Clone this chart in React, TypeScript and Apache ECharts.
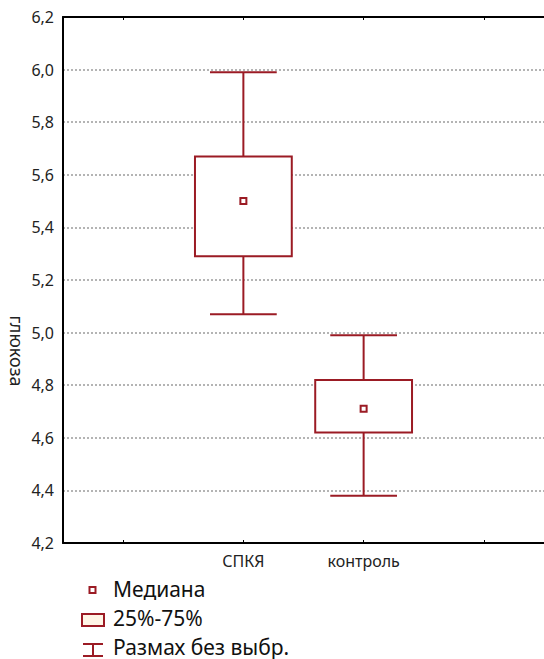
import React, { useEffect, useRef } from "react";
import * as echarts from "echarts";

const categories = ["", "СПКЯ", "контроль", ""];
// [category index, min, q1, median, q3, max]
const groupIndex = [1, 2];
const minValues = [5.07, 4.38];
const q1Values = [5.29, 4.62];
const medianValues = [5.5, 4.71];
const q3Values = [5.67, 4.82];
const maxValues = [5.99, 4.99];
const legendLabels = ["Медиана", "25%-75%", "Размах без выбр."];
const yAxisTitle = "глюкоза";

const RED = "#9b1b24";
const FONT = "Noto Sans";

export default function App() {
  const ref = useRef<HTMLDivElement>(null);
  useEffect(() => {
    if (!ref.current) return;
    const chart = echarts.init(ref.current, null, { renderer: "svg" });
    const data = groupIndex.map((g, i) => [
      g,
      minValues[i],
      q1Values[i],
      medianValues[i],
      q3Values[i],
      maxValues[i],
    ]);
    const renderItem = (params: any, api: any) => {
      const x = api.value(0);
      const band = api.size([1, 0])[0];
      const boxW = band * 0.805;
      const capW = band * 0.555;
      const pMin = api.coord([x, api.value(1)]);
      const pQ1 = api.coord([x, api.value(2)]);
      const pMed = api.coord([x, api.value(3)]);
      const pQ3 = api.coord([x, api.value(4)]);
      const pMax = api.coord([x, api.value(5)]);
      const cx = pMed[0];
      const ls = { stroke: RED, lineWidth: 2, fill: "none" };
      return {
        type: "group",
        children: [
          { type: "line", shape: { x1: cx, y1: pQ3[1], x2: cx, y2: pMax[1] }, style: ls },
          { type: "line", shape: { x1: cx - capW / 2, y1: pMax[1], x2: cx + capW / 2, y2: pMax[1] }, style: ls },
          { type: "line", shape: { x1: cx, y1: pQ1[1], x2: cx, y2: pMin[1] }, style: ls },
          { type: "line", shape: { x1: cx - capW / 2, y1: pMin[1], x2: cx + capW / 2, y2: pMin[1] }, style: ls },
          {
            type: "rect",
            shape: { x: cx - boxW / 2, y: pQ3[1], width: boxW, height: pQ1[1] - pQ3[1] },
            style: { stroke: RED, lineWidth: 2, fill: "#ffffff" },
          },
          {
            type: "rect",
            shape: { x: cx - 3, y: pMed[1] - 3, width: 6, height: 6 },
            style: { stroke: RED, lineWidth: 2, fill: "#ffffff" },
          },
        ],
      };
    };
    const legendText = (text: string, y: number) => ({
      type: "text",
      x: 113,
      y,
      style: { text, fontSize: 21, fontFamily: FONT, fill: "#111", verticalAlign: "middle" },
    });
    chart.setOption({
      animation: false,
      backgroundColor: "#ffffff",
      grid: { left: 63, top: 17, width: 486, height: 526 },
      xAxis: [
        {
          type: "category",
          data: categories,
          position: "bottom",
          boundaryGap: true,
          axisLine: { lineStyle: { color: "#000", width: 2 } },
          axisTick: { show: true, inside: true, alignWithLabel: true, length: 3, lineStyle: { color: "#000", width: 1 } },
          axisLabel: { color: "#222", fontSize: 16, fontFamily: FONT, margin: 10, interval: 0 },
          splitLine: { show: false },
        },
        {
          type: "category",
          data: categories,
          position: "top",
          boundaryGap: true,
          axisLine: { lineStyle: { color: "#000", width: 2 } },
          axisTick: { show: true, inside: true, alignWithLabel: true, length: 3, lineStyle: { color: "#000", width: 1 } },
          axisLabel: { show: false },
          splitLine: { show: false },
        },
      ],
      yAxis: {
        type: "value",
        min: 4.2,
        max: 6.2,
        interval: 0.2,
        axisLine: { show: true, lineStyle: { color: "#000", width: 2 } },
        axisTick: { show: false },
        axisLabel: {
          color: "#222",
          fontSize: 16,
          fontFamily: FONT,
          margin: 9,
          formatter: (v: number) => v.toFixed(1).replace(".", ","),
        },
        splitLine: { show: true, lineStyle: { color: "#b4b4b4", width: 2, type: [2, 2] } },
      },
      series: [
        {
          type: "custom",
          renderItem,
          data,
          encode: { x: 0, y: [1, 2, 3, 4, 5] },
          z: 5,
        },
      ],
      graphic: [
        {
          type: "text",
          x: 17,
          y: 351,
          rotation: -Math.PI / 2,
          style: {
            text: yAxisTitle,
            fontSize: 18,
            fontFamily: FONT,
            fill: "#222",
            align: "center",
            verticalAlign: "middle",
          },
        },
        {
          type: "rect",
          shape: { x: 89.5, y: 587, width: 6, height: 6 },
          style: { stroke: RED, lineWidth: 2, fill: "#fff" },
        },
        legendText(legendLabels[0], 589),
        {
          type: "rect",
          shape: { x: 82, y: 614, width: 22, height: 12 },
          style: { stroke: RED, lineWidth: 2, fill: "#fff5e6" },
        },
        legendText(legendLabels[1], 618),
        { type: "line", shape: { x1: 83, y1: 644, x2: 103, y2: 644 }, style: { stroke: RED, lineWidth: 2 } },
        { type: "line", shape: { x1: 93, y1: 644, x2: 93, y2: 656 }, style: { stroke: RED, lineWidth: 2 } },
        { type: "line", shape: { x1: 83, y1: 656, x2: 103, y2: 656 }, style: { stroke: RED, lineWidth: 2 } },
        legendText(legendLabels[2], 646.5),
      ],
    });
    return () => chart.dispose();
  }, []);
  return <div ref={ref} style={{ width: 544, height: 659, position: "fixed", left: 0, top: 0 }} />;
}
